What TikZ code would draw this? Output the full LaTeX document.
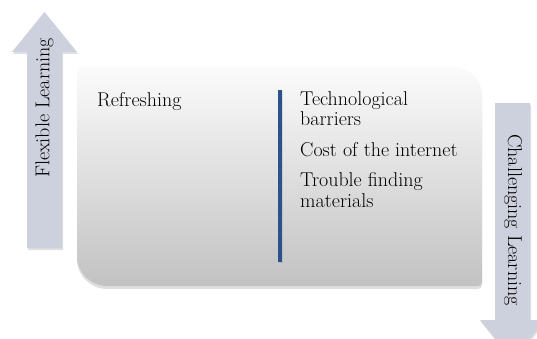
\documentclass[tikz,border=0pt]{standalone}
\usetikzlibrary{shadows}

\definecolor{arrowgray}{RGB}{205,208,221}
\definecolor{barblue}{RGB}{42,82,140}
\tikzset{
  arrowshape/.style={fill=arrowgray, drop shadow={opacity=0.25, shadow xshift=1pt, shadow yshift=-2pt}},
  boxshade/.style={top color=gray!3, bottom color=gray!48, drop shadow={opacity=0.25, shadow xshift=0pt, shadow yshift=-3pt}},
  lbl/.style={inner sep=0pt, font=\fontsize{20}{20.5}\selectfont}
}

\begin{document}
\begin{tikzpicture}[x=1pt,y=1pt]
            \useasboundingbox (0,0) rectangle (537,338);
            \clip (0,0) rectangle (537,338);

            \path[arrowshape] (27,90) -- (27,286) -- (12,286) -- (44.5,326) -- (77,286) -- (62,286) -- (62,90) -- cycle;
            \path[arrowshape] (495,235) -- (530,235) -- (530,18) -- (545,18) -- (512.5,-22) -- (480,18) -- (495,18) -- cycle;

            \path[boxshade] (81,271) -- (454,271) arc[start angle=90, end angle=0, radius=28pt]
                -- (482,56) arc[start angle=0, end angle=-90, radius=4pt]
                -- (107,52) arc[start angle=270, end angle=180, radius=30pt]
                -- (77,267) arc[start angle=180, end angle=90, radius=4pt] -- cycle;

            \fill[barblue, drop shadow={opacity=0.2, shadow xshift=1pt, shadow yshift=-1pt}] (278,76) rectangle (282,248);

            \node[lbl, rotate=90] (flex) at (44.5,230) {Flexible Learning};
            \node[lbl, rotate=-90] (chall) at (513,118) {Challenging Learning};

            \node[lbl, anchor=base west] (refresh) at (97,232) {Refreshing};
            \node[lbl, anchor=north west, align=left] (barriers) at (300,246.9)
                {Technological\\barriers\\[10pt]Cost of the internet\\[10pt]Trouble finding\\materials};
        \end{tikzpicture}
\end{document}
